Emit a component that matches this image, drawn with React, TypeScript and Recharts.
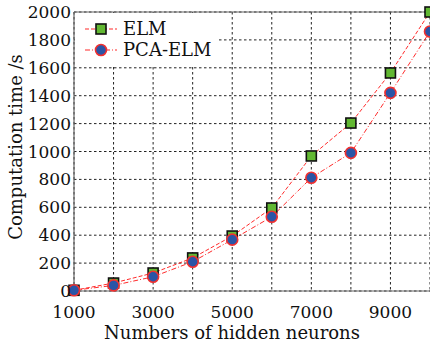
import React from "react";
import { LineChart, Line, XAxis, YAxis, CartesianGrid, Legend, ReferenceLine } from "recharts";

const neurons = [1000, 2000, 3000, 4000, 5000, 6000, 7000, 8000, 9000, 10000];
const elmTime = [5, 57, 129, 237, 394, 595, 968, 1204, 1563, 2000];
const pcaElmTime = [5, 40, 102, 210, 368, 532, 812, 990, 1420, 1860];
const xTicks = [1000, 2000, 3000, 4000, 5000, 6000, 7000, 8000, 9000, 10000];
const xTickLabels = [1000, 3000, 5000, 7000, 9000];
const yTicks = [0, 200, 400, 600, 800, 1000, 1200, 1400, 1600, 1800, 2000];

const data = neurons.map((n, i) => ({ n, elm: elmTime[i], pca: pcaElmTime[i] }));

const FONT = "'DejaVu Serif', serif";
const LINE_RED = "#ff2b2b";
const SQUARE_GREEN = "#62b832";
const CIRCLE_BLUE = "#2a55a6";

const SquareDot = (props: any) => {
  const { cx, cy } = props;
  if (cx == null || cy == null) return null;
  return <rect x={cx - 5} y={cy - 5} width={10} height={10} fill={SQUARE_GREEN} stroke="#111" strokeWidth={1.6} />;
};

const CircleDot = (props: any) => {
  const { cx, cy } = props;
  if (cx == null || cy == null) return null;
  return <circle cx={cx} cy={cy} r={5.5} fill={CIRCLE_BLUE} stroke="#f03030" strokeWidth={1.6} />;
};

// only every other thousand gets a label, but all of them get a grid line
const XTick = (props: any) => {
  const { x, payload } = props;
  if (!xTickLabels.includes(payload.value)) return null;
  return (
    <text x={x} y={318} textAnchor="middle" fontSize={17} fill="#111" fontFamily={FONT}>
      {payload.value}
    </text>
  );
};

const LegendBox = () => (
  <div style={{ background: "#fff", width: 143, height: 53, fontFamily: FONT, fontSize: 18, color: "#111" }}>
    {[
      { name: "ELM", dash: "4 2", dot: "square" },
      { name: "PCA-ELM", dash: "5 2 1 2", dot: "circle" },
    ].map((item, i) => (
      <div key={i} style={{ display: "flex", alignItems: "center", height: 20, paddingTop: i === 0 ? 6 : 1 }}>
        <svg width={48} height={16} style={{ marginLeft: 10 }}>
          <line x1={0} y1={8} x2={32} y2={8} stroke={LINE_RED} strokeWidth={1.2} strokeDasharray={item.dash} />
          {item.dot === "square" ? (
            <rect x={11} y={3} width={10} height={10} fill={SQUARE_GREEN} stroke="#111" strokeWidth={1.6} />
          ) : (
            <circle cx={16} cy={8} r={5.5} fill={CIRCLE_BLUE} stroke="#f03030" strokeWidth={1.6} />
          )}
        </svg>
        <span style={{ marginLeft: -10, lineHeight: "20px" }}>{item.name}</span>
      </div>
    ))}
  </div>
);

export default function App() {
  return (
    <div style={{ position: "fixed", left: 0, top: 0, width: 430, height: 346, background: "#fff", fontFamily: FONT }}>
      <LineChart width={430} height={346} data={data} margin={{ top: 12, right: 0, left: 0, bottom: 0 }}>
        <CartesianGrid stroke="#222" strokeDasharray="2.5 2.5" strokeWidth={1} />
        <XAxis
          dataKey="n"
          type="number"
          domain={[1000, 10000]}
          ticks={xTicks}
          interval={0}
          tickSize={0}
          tick={<XTick />}
          height={55}
          axisLine={{ stroke: "#666", strokeWidth: 1.2 }}
          label={{
            content: () => (
              <text x={232} y={339} textAnchor="middle" fontSize={18} fill="#111" fontFamily={FONT}>
                Numbers of hidden neurons
              </text>
            ),
          }}
        />
        <YAxis
          type="number"
          domain={[0, 2000]}
          ticks={yTicks}
          interval={0}
          width={74}
          tickSize={0}
          tickMargin={3}
          tick={{ fontSize: 17, fill: "#111", fontFamily: FONT }}
          axisLine={{ stroke: "#666", strokeWidth: 1.2 }}
          label={{
            content: () => (
              <text transform="translate(22,147) rotate(-90)" textAnchor="middle" fontSize={18} fill="#111" fontFamily={FONT}>
                Computation time /s
              </text>
            ),
          }}
        />
        <ReferenceLine y={2000} stroke="#666" strokeWidth={1.2} />
        <Legend
          layout="vertical"
          align="center"
          verticalAlign="middle"
          wrapperStyle={{ position: "absolute", left: 75, top: 13, width: 143, height: 53 }}
          content={<LegendBox />}
        />
        <Line
          dataKey="elm"
          stroke={LINE_RED}
          strokeWidth={1}
          strokeDasharray="4 2"
          dot={<SquareDot />}
          activeDot={false}
          isAnimationActive={false}
        />
        <Line
          dataKey="pca"
          stroke={LINE_RED}
          strokeWidth={1}
          strokeDasharray="5 2 1 2"
          dot={<CircleDot />}
          activeDot={false}
          isAnimationActive={false}
        />
      </LineChart>
    </div>
  );
}
